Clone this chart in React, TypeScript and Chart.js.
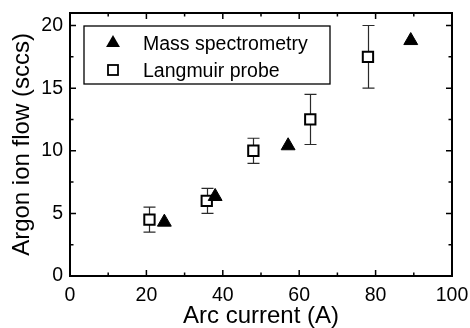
import React, { useEffect, useRef } from "react";
import { Chart, registerables } from "chart.js";

Chart.register(...registerables);

const FONT = "'Liberation Sans', Arial, Helvetica, sans-serif";

// Data
const seriesLabels = ["Mass spectrometry", "Langmuir probe"];
const massX = [24.7, 38.0, 57.1, 89.2];
const massY = [4.3, 6.35, 10.4, 18.8];
const probeX = [20.8, 35.8, 48.0, 62.9, 78.0];
const probeY = [4.5, 6.0, 10.0, 12.5, 17.5];
const probeLow = [3.5, 5.0, 9.0, 10.5, 15.0];
const probeHigh = [5.5, 7.0, 11.0, 14.5, 20.0];
const xTitle = "Arc current (A)";
const yTitle = "Argon ion flow (sccs)";

const errorBarPlugin = {
  id: "errorBars",
  beforeDatasetsDraw(chart: any) {
    const { ctx, scales } = chart;
    const xs = scales.x;
    const ys = scales.y;
    ctx.save();
    ctx.strokeStyle = "#2a2a2a";
    ctx.lineWidth = 1.2;
    probeX.forEach((xv, i) => {
      const px = Math.round(xs.getPixelForValue(xv)) + 0.5;
      const lo = ys.getPixelForValue(probeLow[i]);
      const hi = ys.getPixelForValue(probeHigh[i]);
      const cap = 6;
      ctx.beginPath();
      ctx.moveTo(px, lo);
      ctx.lineTo(px, hi);
      ctx.moveTo(px - cap, lo);
      ctx.lineTo(px + cap, lo);
      ctx.moveTo(px - cap, hi);
      ctx.lineTo(px + cap, hi);
      ctx.stroke();
    });
    ctx.restore();
  },
};

const framePlugin = {
  id: "frameTicks",
  afterDatasetsDraw(chart: any) {
    const { ctx, chartArea, scales } = chart;
    const { left, right, top, bottom } = chartArea;
    ctx.save();
    ctx.strokeStyle = "#000";
    ctx.lineWidth = 2;
    ctx.strokeRect(left, top, right - left, bottom - top);
    ctx.lineWidth = 1.5;
    const major = 6;
    const minor = 3.5;
    const xs = scales.x;
    const ys = scales.y;
    const xt = xs.ticks.map((t: any) => t.value);
    const yt = ys.ticks.map((t: any) => t.value);
    const xMinor: number[] = [];
    for (let i = 0; i < xt.length - 1; i++) xMinor.push((xt[i] + xt[i + 1]) / 2);
    const yMinor: number[] = [];
    for (let i = 0; i < yt.length - 1; i++) yMinor.push((yt[i] + yt[i + 1]) / 2);
    ctx.beginPath();
    const vx = (v: number, len: number) => {
      const p = xs.getPixelForValue(v);
      ctx.moveTo(p, bottom);
      ctx.lineTo(p, bottom - len);
      ctx.moveTo(p, top);
      ctx.lineTo(p, top + len);
    };
    const vy = (v: number, len: number) => {
      const p = ys.getPixelForValue(v);
      ctx.moveTo(left, p);
      ctx.lineTo(left + len, p);
      ctx.moveTo(right, p);
      ctx.lineTo(right - len, p);
    };
    xt.forEach((v: number) => vx(v, major));
    xMinor.forEach((v) => vx(v, minor));
    yt.forEach((v: number) => vy(v, major));
    yMinor.forEach((v) => vy(v, minor));
    ctx.stroke();
    ctx.restore();
  },
};

const legendPlugin = {
  id: "boxLegend",
  afterDraw(chart: any) {
    const { ctx, chartArea } = chart;
    const bx = chartArea.left + 14;
    const by = chartArea.top + 13;
    const bw = 246;
    const bh = 58;
    ctx.save();
    ctx.strokeStyle = "#000";
    ctx.lineWidth = 1.3;
    ctx.fillStyle = "#fff";
    ctx.fillRect(bx, by, bw, bh);
    ctx.strokeRect(bx, by, bw, bh);

    const mx = bx + 29;
    const row1 = by + 17;
    const row2 = by + 44;
    // triangle marker
    const r = 8;
    ctx.fillStyle = "#000";
    ctx.beginPath();
    ctx.moveTo(mx, row1 - r);
    ctx.lineTo(mx + r * Math.sin((2 * Math.PI) / 3), row1 + r / 2);
    ctx.lineTo(mx - r * Math.sin((2 * Math.PI) / 3), row1 + r / 2);
    ctx.closePath();
    ctx.fill();
    // square marker
    ctx.lineWidth = 1.8;
    ctx.strokeRect(mx - 5, row2 - 5, 10, 10);

    ctx.fillStyle = "#000";
    ctx.font = `19.5px ${FONT}`;
    ctx.textAlign = "left";
    ctx.textBaseline = "alphabetic";
    ctx.fillText(seriesLabels[0], bx + 59, row1 + 7);
    ctx.fillText(seriesLabels[1], bx + 59, row2 + 6.5);
    ctx.restore();
  },
};

export default function App() {
  const ref = useRef<HTMLCanvasElement>(null);
  useEffect(() => {
    if (!ref.current) return;
    const chart = new Chart(ref.current, {
      type: "scatter",
      data: {
        datasets: [
          {
            label: seriesLabels[0],
            data: massX.map((x, i) => ({ x, y: massY[i] })),
            pointStyle: "triangle",
            pointRadius: 8,
            pointBackgroundColor: "#000",
            pointBorderColor: "#000",
            pointBorderWidth: 1,
          },
          {
            label: seriesLabels[1],
            data: probeX.map((x, i) => ({ x, y: probeY[i] })),
            pointStyle: "rect",
            pointRadius: 7.3,
            pointBackgroundColor: "#fff",
            pointBorderColor: "#000",
            pointBorderWidth: 2,
          },
        ],
      },
      options: {
        responsive: false,
        animation: false,
        events: [],
        layout: { padding: { top: 13, right: 18, left: 0, bottom: 0 } },
        plugins: {
          legend: { display: false },
          tooltip: { enabled: false },
        },
        scales: {
          x: {
            type: "linear",
            min: 0,
            max: 100,
            grid: { display: false, drawTicks: false },
            border: { display: false },
            ticks: {
              stepSize: 20,
              padding: 8,
              color: "#000",
              font: { family: FONT, size: 19.5 },
              maxRotation: 0,
            },
            title: {
              display: true,
              text: xTitle,
              color: "#000",
              font: { family: FONT, size: 24, lineHeight: 0.95 },
              padding: { top: 0, bottom: 0 },
            },
            afterFit(scale: any) {
              scale.height = 52;
              scale.paddingLeft = 0;
              scale.paddingRight = 0;
            },
          },
          y: {
            type: "linear",
            min: 0,
            max: 21,
            grid: { display: false, drawTicks: false },
            border: { display: false },
            ticks: {
              stepSize: 5,
              includeBounds: false,
              padding: 7,
              color: "#000",
              font: { family: FONT, size: 19.5 },
            },
            title: {
              display: true,
              text: yTitle,
              color: "#000",
              font: { family: FONT, size: 24, lineHeight: 1 },
              padding: { top: 10, bottom: 0 },
            },
            afterFit(scale: any) {
              scale.width = 70;
              scale.paddingTop = 0;
              scale.paddingBottom = 0;
            },
          },
        },
      },
      plugins: [errorBarPlugin, framePlugin, legendPlugin],
    });
    return () => chart.destroy();
  }, []);

  return (
    <div style={{ position: "fixed", left: 0, top: 0, width: 470, height: 328, background: "#fff" }}>
      <canvas ref={ref} width={470} height={328} style={{ display: "block" }} />
    </div>
  );
}
